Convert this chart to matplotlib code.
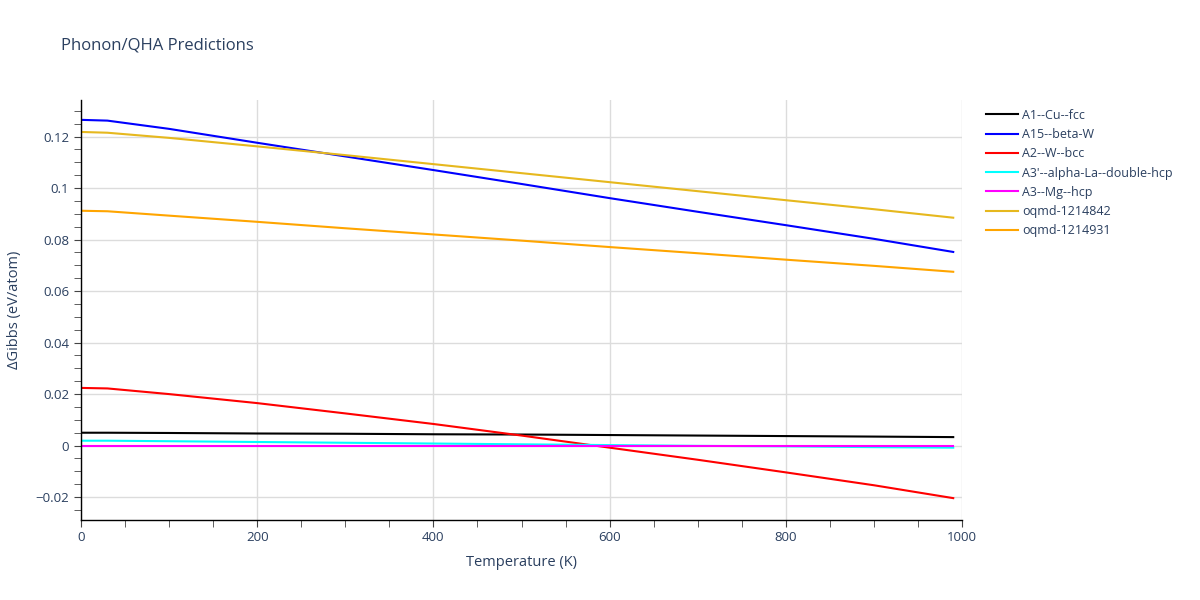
import matplotlib.pyplot as plt
from matplotlib.ticker import MultipleLocator
import numpy as np

plt.rcParams['font.family'] = ['Open Sans', 'DejaVu Sans']

# temperatures (K)
temps = [0, 30, 100, 200, 300, 400, 500, 600, 700, 800, 900, 990]

# dGibbs (eV/atom) per structure
a1_cu_fcc = [0.0050, 0.0050, 0.0049, 0.0047, 0.0046, 0.0044, 0.0043, 0.0041, 0.0039, 0.0037, 0.0035, 0.0033]
a15_beta_w = [0.1265, 0.1262, 0.1230, 0.1176, 0.1123, 0.1070, 0.1016, 0.0961, 0.0908, 0.0856, 0.0803, 0.0752]
a2_w_bcc = [0.0224, 0.0222, 0.0200, 0.0165, 0.0125, 0.0084, 0.0039, -0.0008, -0.0055, -0.0104, -0.0154, -0.0204]
a3p_la_dhcp = [0.0019, 0.0019, 0.0017, 0.0014, 0.0011, 0.0008, 0.0005, 0.0002, -0.0001, -0.0003, -0.0006, -0.0008]
a3_mg_hcp = [0.0, 0.0, 0.0, 0.0, 0.0, 0.0, 0.0, 0.0, 0.0, 0.0, 0.0, 0.0]
oqmd_1214842 = [0.1218, 0.1215, 0.1195, 0.1162, 0.1128, 0.1093, 0.1058, 0.1023, 0.0988, 0.0953, 0.0918, 0.0885]
oqmd_1214931 = [0.0912, 0.0910, 0.0893, 0.0869, 0.0844, 0.0820, 0.0796, 0.0771, 0.0747, 0.0722, 0.0698, 0.0675]

series = [
    ("A1--Cu--fcc", a1_cu_fcc, "black"),
    ("A15--beta-W", a15_beta_w, "blue"),
    ("A2--W--bcc", a2_w_bcc, "red"),
    ("A3'--alpha-La--double-hcp", a3p_la_dhcp, "cyan"),
    ("A3--Mg--hcp", a3_mg_hcp, "magenta"),
    ("oqmd-1214842", oqmd_1214842, "#e6b81e"),
    ("oqmd-1214931", oqmd_1214931, "orange"),
]

txt = '#2a3f5f'

fig = plt.figure(figsize=(12, 6), dpi=100)
ax = fig.add_axes([0.0675, 0.1333, 0.7342, 0.7])

for name, vals, col in series:
    ax.plot(temps, vals, color=col, lw=1.5, label=name)

ax.set_xlim(0, 1000)
ax.set_ylim(-0.0289, 0.1342)

ax.xaxis.set_major_locator(MultipleLocator(200))
ax.xaxis.set_minor_locator(MultipleLocator(50))
ax.yaxis.set_major_locator(MultipleLocator(0.02))
ax.yaxis.set_minor_locator(MultipleLocator(0.005))

def yfmt(v, pos):
    if abs(v) < 1e-9:
        return '0'
    s = ('%.2f' % v).rstrip('0')
    return s.replace('-', '\u2212')
ax.yaxis.set_major_formatter(plt.FuncFormatter(yfmt))

ax.grid(True, which='major', color='#dcdcdc', lw=1)
ax.set_axisbelow(True)
for s in ['top', 'right']:
    ax.spines[s].set_visible(False)
for s in ['left', 'bottom']:
    ax.spines[s].set_color('black')
    ax.spines[s].set_linewidth(1)

ax.tick_params(which='both', direction='out', length=5, color='#444444', labelsize=9.5, labelcolor=txt)
ax.tick_params(axis='x', pad=3)

ax.set_xlabel('Temperature (K)', fontsize=10.5, color=txt, labelpad=8)
ax.set_ylabel('\u0394Gibbs (eV/atom)', fontsize=10.5, color=txt, labelpad=10)
fig.text(0.051, 0.925, 'Phonon/QHA Predictions', fontsize=12, color=txt, va='center')

leg = ax.legend(loc='upper left', bbox_to_anchor=(1.017, 1.0), frameon=False,
                fontsize=9, handlelength=2.6, labelspacing=0.5, handletextpad=0.3,
                borderaxespad=0.3)
for t in leg.get_texts():
    t.set_color(txt)

fig.savefig('out.png', dpi=100)
